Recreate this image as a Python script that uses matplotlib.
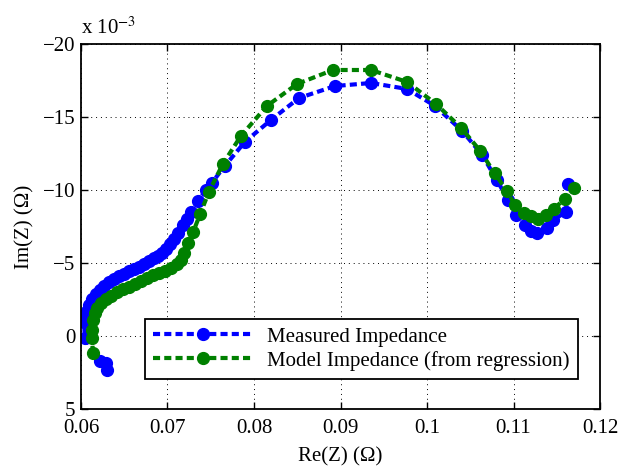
import numpy as np
from matplotlib import pyplot as plt

# Re(Z) in ohm, Im(Z) in units of 1e-3 ohm
re_meas = [0.06301, 0.06289, 0.06220, 0.06046, 0.06035, 0.06058, 0.06092, 0.06127,
           0.06173, 0.06220, 0.06266, 0.06324, 0.06382, 0.06439, 0.06497, 0.06555,
           0.06613, 0.06671, 0.06728, 0.06786, 0.06844, 0.06890, 0.06936, 0.06983,
           0.07029, 0.07075, 0.07121, 0.07179, 0.07225, 0.07272, 0.07353, 0.07445,
           0.07514, 0.07665, 0.07896, 0.08197, 0.08520, 0.08936, 0.09353, 0.09769,
           0.10092, 0.10405, 0.10636, 0.10803, 0.10936, 0.11029, 0.11133, 0.11202,
           0.11272, 0.11387, 0.11457, 0.11607, 0.11630]
im_meas = [2.32, 1.84, 1.71, 0.14, -0.96, -1.64, -2.12, -2.53,
           -2.87, -3.14, -3.41, -3.69, -3.89, -4.10, -4.23, -4.44,
           -4.57, -4.71, -4.91, -5.12, -5.32, -5.46, -5.67, -5.94,
           -6.28, -6.62, -7.03, -7.58, -8.05, -8.53, -9.22, -10.03,
           -10.51, -11.67, -13.31, -14.81, -16.31, -17.13, -17.34, -16.93,
           -15.77, -14.06, -12.42, -10.72, -9.35, -8.26, -7.58, -7.17,
           -7.03, -7.37, -7.92, -8.53, -10.44]

re_model = [0.06139, 0.06127, 0.06127, 0.06139, 0.06162, 0.06185, 0.06231, 0.06289,
            0.06347, 0.06416, 0.06486, 0.06555, 0.06624, 0.06694, 0.06763, 0.06832,
            0.06902, 0.06971, 0.07040, 0.07110, 0.07156, 0.07191, 0.07237, 0.07295,
            0.07376, 0.07480, 0.07642, 0.07850, 0.08150, 0.08497, 0.08913, 0.09353,
            0.09769, 0.10104, 0.10393, 0.10613, 0.10780, 0.10925, 0.11012, 0.11121,
            0.11202, 0.11283, 0.11376, 0.11468, 0.11590, 0.11699]
im_model = [1.16, 0.14, -0.41, -1.09, -1.57, -1.91, -2.25, -2.53,
            -2.73, -3.00, -3.21, -3.34, -3.55, -3.75, -3.96, -4.16,
            -4.30, -4.44, -4.64, -4.91, -5.19, -5.67, -6.35, -7.10,
            -8.33, -9.90, -11.81, -13.72, -15.77, -17.27, -18.23, -18.23,
            -17.41, -15.90, -14.27, -12.70, -11.16, -9.93, -9.01, -8.42,
            -8.19, -8.03, -8.29, -8.72, -9.40, -10.17]

x_ticks = [0.06, 0.07, 0.08, 0.09, 0.1, 0.11, 0.12]
y_ticks = [-20, -15, -10, -5, 0, 5]

plt.rcParams['font.family'] = ['Liberation Serif', 'DejaVu Serif']
plt.rcParams['mathtext.fontset'] = 'stix'
plt.rcParams['font.size'] = 15

fig = plt.figure(figsize=(6.18, 4.70), dpi=100)
ax = fig.add_axes([0.131, 0.130, 0.840, 0.776])

ax.plot(re_meas, im_meas, color=(0, 0, 1), linestyle='--', dashes=(1.7, 1.0),
        lw=3, marker='o', ms=8.5, label='Measured Impedance')
ax.plot(re_model, im_model, color=(0, 0.5, 0), linestyle='--', dashes=(1.7, 1.0),
        lw=3, marker='o', ms=8.5, label='Model Impedance (from regression)')

ax.set_xlim(0.06, 0.12)
ax.set_ylim(5, -20)
ax.set_xticks(x_ticks)
ax.set_xticklabels(['%g' % v for v in x_ticks])
ax.set_yticks(y_ticks)
ax.set_yticklabels([('\u2212%d' % -v) if v < 0 else '%d' % v for v in y_ticks])

ax.grid(True, color='k', linestyle=(0, (1, 4)), lw=0.7)
ax.tick_params(direction='in', top=True, right=True, length=5, width=1)
ax.tick_params(axis='x', pad=7)
ax.tick_params(axis='y', pad=4)
for s in ax.spines.values():
    s.set_linewidth(1.3)

ax.text(0.0, 1.015, r'x 10$^{-3}$', transform=ax.transAxes, ha='left', va='bottom', fontsize=15)
ax.set_xlabel('Re(Z) (\u03a9)', labelpad=7)
ax.set_ylabel('Im(Z) (\u03a9)', labelpad=6)

leg = ax.legend(loc='lower right', bbox_to_anchor=(0.958, 0.082), borderaxespad=0,
                fontsize=15, handlelength=4.8, labelspacing=0.2, borderpad=0.4,
                handletextpad=0.7, fancybox=False, framealpha=1, edgecolor='k')
leg.get_frame().set_linewidth(1.3)

fig.savefig('out.png', dpi=100)
